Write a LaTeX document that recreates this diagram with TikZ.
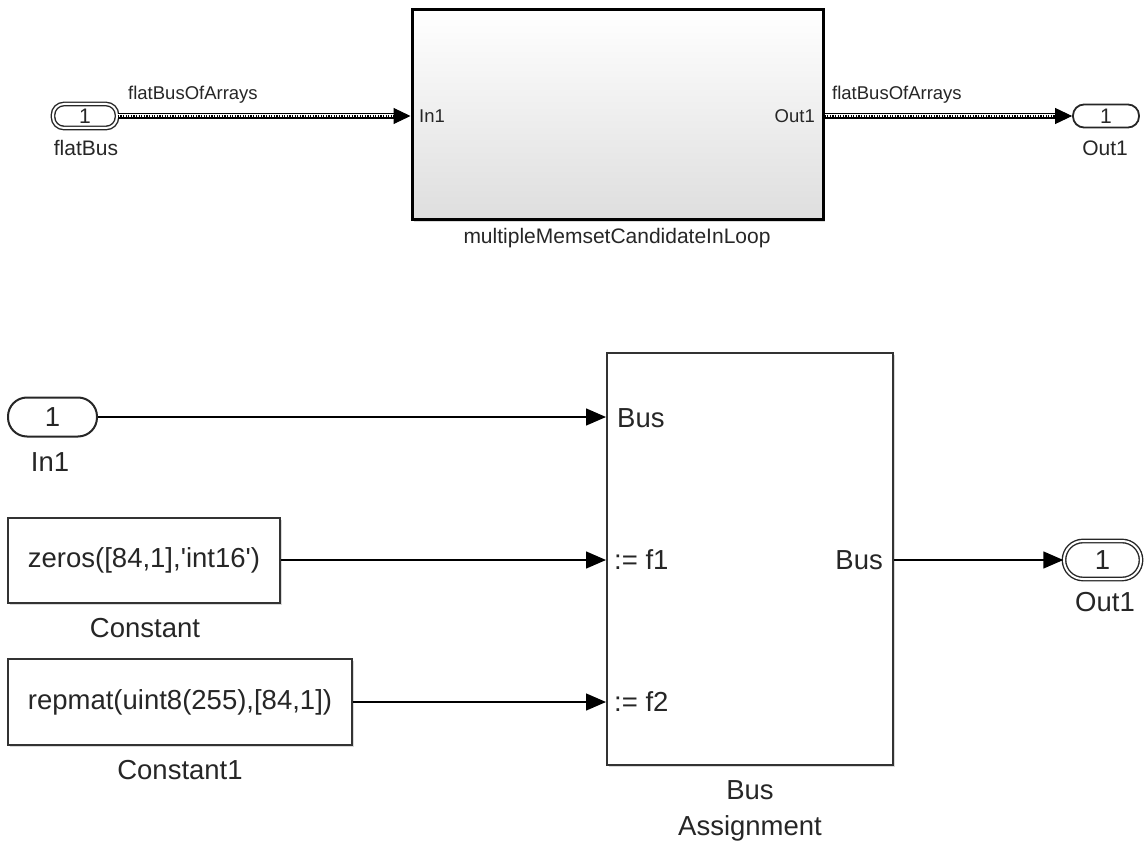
\documentclass[tikz,border=0pt]{standalone}
\usepackage{fontspec}
\setmainfont{Liberation Sans}
\usetikzlibrary{arrows.meta,shadows}
\tikzset{
  lbl/.style={inner sep=0pt, font=\fontsize{27.5}{32}\selectfont, text=black!85},
  slbl/.style={inner sep=0pt, font=\fontsize{21}{25}\selectfont, text=black!85},
  tlbl/.style={inner sep=0pt, font=\fontsize{18.5}{22}\selectfont, text=black!85},
  block/.style={draw=black!80, line width=2pt, fill=white, inner sep=0pt,
    drop shadow={shadow xshift=2pt, shadow yshift=-2pt, opacity=0.3}},
  subsys/.style={draw=black, line width=3pt, top color=white, bottom color=black!13,
    inner sep=0pt, drop shadow={shadow xshift=2pt, shadow yshift=-2pt, opacity=0.3}},
  pill/.style={draw=black!85, line width=2pt, fill=white, inner sep=0pt},
  dpill/.style={draw=black!85, line width=1.4pt, double=white, double distance=2pt, fill=white, inner sep=0pt},
  sig/.style={draw=black, line width=1.4pt, -{Triangle[length=20pt,width=17pt]}},
  busline/.style={line width=3pt, draw=white, preaction={draw=black, line width=6pt},
    postaction={draw=black, line width=1.3pt, dash pattern=on 1.3pt off 1.3pt}},
  bustip/.style={draw=black, line width=1pt, -{Triangle[length=17pt,width=16pt]}},
}
\begin{document}
\begin{tikzpicture}[x=1pt,y=-1pt]
\useasboundingbox (0,0) rectangle (1148,842);
% ---------- top part ----------
\node[dpill, rounded corners=11pt, minimum width=64pt, minimum height=24pt] (fb) at (85,116) {};
\node[slbl] (fbnum) at (fb.center) {1};
\node[slbl] (fblbl) at (86,148) {flatBus};
\node[subsys, minimum width=411pt, minimum height=210pt] (sub) at (617.5,115) {};
\node[tlbl, anchor=west] (subin) at (419,116) {In1};
\node[tlbl, anchor=east] (subout) at (815,116) {Out1};
\node[slbl] (sublbl) at (617,238) {multipleMemsetCandidateInLoop};
\node[pill, line width=1.8pt, rounded corners=11pt, minimum width=66pt, minimum height=23pt] (o1) at (1106,116) {};
\node[slbl] (o1num) at (o1.center) {1};
\node[slbl] (o1lbl) at (1105,148) {Out1};
\coordinate (subinpt) at (sub.west |- fb.east);
\coordinate (suboutpt) at (sub.east |- o1.west);
\draw[busline] (fb.east) -- ([xshift=-16pt]subinpt);
\draw[bustip] ([xshift=-17pt]subinpt) -- (subinpt);
\draw[busline] (suboutpt) -- ([xshift=-16pt]o1.west);
\draw[bustip] ([xshift=-17pt]o1.west) -- (o1.west);
\node[tlbl, anchor=west] (bl1) at (128,95) {flatBusOfArrays};
\node[tlbl, anchor=west] (bl2) at (832,95) {flatBusOfArrays};
% ---------- bottom part ----------
\node[pill, rounded corners=19pt, minimum width=89pt, minimum height=39pt] (in1) at (52.5,417) {};
\node[lbl] (in1num) at (in1.center) {1};
\node[lbl] (in1lbl) at (50,462) {In1};
\node[block, minimum width=272pt, minimum height=85pt] (c0) at (144,560) {};
\node[lbl] (c0txt) at (c0.center) {zeros([84,1],\textquotesingle int16\textquotesingle)};
\node[lbl] (c0lbl) at (145,628) {Constant};
\node[block, minimum width=344pt, minimum height=86pt] (c1) at (180,702) {};
\node[lbl] (c1txt) at (c1.center) {repmat(uint8(255),[84,1])};
\node[lbl] (c1lbl) at (180,770) {Constant1};
\node[block, minimum width=286pt, minimum height=412pt] (ba) at (750,559) {};
\node[lbl, anchor=west] (pbus) at (617,418) {Bus};
\node[lbl, anchor=west] (pf1) at (614,560) {:= f1};
\node[lbl, anchor=west] (pf2) at (614,702) {:= f2};
\node[lbl, anchor=east] (pout) at (883,560) {Bus};
\node[lbl] (balbl1) at (750,790) {Bus};
\node[lbl] (balbl2) at (750,828) {Assignment};
\node[dpill, rounded corners=19pt, minimum width=77pt, minimum height=38pt] (out1) at (1102.5,560) {};
\node[lbl] (out1num) at (out1.center) {1};
\node[lbl] (out1lbl) at (1105,602) {Out1};
\draw[sig] (in1.east) -- (ba.west |- in1.east);
\draw[sig] (c0.east) -- (ba.west |- c0.east);
\draw[sig] (c1.east) -- (ba.west |- c1.east);
\draw[sig] (ba.east |- out1.west) -- (out1.west);
\end{tikzpicture}
\end{document}
